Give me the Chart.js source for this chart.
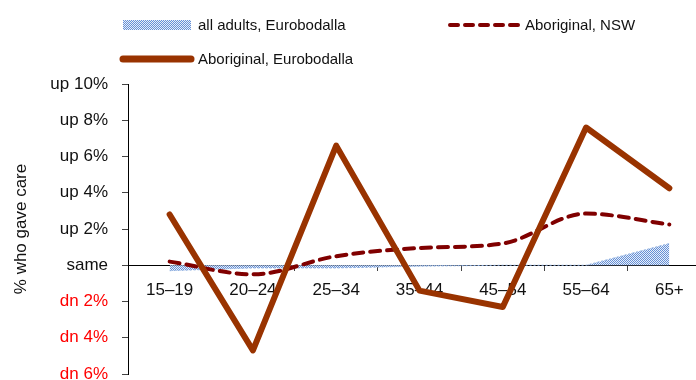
<!DOCTYPE html>
<html>
<head>
<meta charset="utf-8">
<script src="https://cdn.jsdelivr.net/npm/chart.js@4/dist/chart.umd.min.js"></script>
<style>
  html, body { margin:0; padding:0; background:#fff; overflow:hidden; width:696px; height:380px; }
  #wrap { position:absolute; left:0; top:0; width:714px; height:380px; }
  .lg { position:absolute; font-family:"Liberation Sans", Arial, sans-serif; font-size:15px; color:#111; line-height:18px; white-space:nowrap; }
  .sw { position:absolute; }
</style>
</head>
<body>
<div id="wrap"><canvas id="c" width="714" height="380" style="width:714px;height:380px"></canvas></div>
<canvas class="sw" id="sw1" width="70" height="12" style="left:122px;top:19px"></canvas>
<div class="lg" style="left:198px;top:16px">all adults, Eurobodalla</div>
<canvas class="sw" id="sw2" width="74" height="12" style="left:446px;top:19px"></canvas>
<div class="lg" style="left:525px;top:16px">Aboriginal, NSW</div>
<canvas class="sw" id="sw3" width="78" height="12" style="left:118px;top:53px"></canvas>
<div class="lg" style="left:198px;top:50px">Aboriginal, Eurobodalla</div>
<script>
const categories = ['15–19','20–24','25–34','35–44','45–54','55–64','65+'];
const allAdultsEurobodalla = [-0.3, -0.15, -0.15, -0.05, 0, 0, 1.2];
const aboriginalNSW = [0.2, -0.5, 0.5, 0.95, 1.2, 2.85, 2.25];
const aboriginalEurobodalla = [2.8, -4.7, 6.6, -1.4, -2.3, 7.6, 4.25];
const yTickValues = [-6, -4, -2, 0, 2, 4, 6, 8, 10];
const yTickLabels = ['dn 6%', 'dn 4%', 'dn 2%', 'same', 'up 2%', 'up 4%', 'up 6%', 'up 8%', 'up 10%'];

const FONT = '"Liberation Sans", Arial, sans-serif';
const C_EURO = '#993300';
const C_NSW = '#800000';

function makePattern(ctx) {
  const p = document.createElement('canvas');
  p.width = 2; p.height = 2;
  const pc = p.getContext('2d');
  pc.fillStyle = '#e8eff9'; pc.fillRect(0,0,2,2);
  pc.fillStyle = '#6690d6';
  pc.fillRect(0,0,1,1); pc.fillRect(1,1,1,1);
  return ctx.createPattern(p, 'repeat');
}

(function(){
  const s1 = document.getElementById('sw1').getContext('2d');
  s1.fillStyle = makePattern(s1); s1.fillRect(1,1,68,10);
  const s2 = document.getElementById('sw2').getContext('2d');
  s2.strokeStyle = C_NSW; s2.lineWidth = 4; s2.lineCap = 'round';
  s2.setLineDash([8,7]); s2.beginPath(); s2.moveTo(4,6); s2.lineTo(72,6); s2.stroke();
  const s3 = document.getElementById('sw3').getContext('2d');
  s3.strokeStyle = C_EURO; s3.lineWidth = 7; s3.lineCap = 'round';
  s3.beginPath(); s3.moveTo(5,6); s3.lineTo(73,6); s3.stroke();
})();

const ctx = document.getElementById('c').getContext('2d');
new Chart(ctx, {
  type: 'line',
  data: {
    labels: categories,
    datasets: [
      { label: 'all adults, Eurobodalla', data: allAdultsEurobodalla, backgroundColor: makePattern(ctx),
        borderColor: '#8fb0e0', borderWidth: 1, borderDash: [2,2], fill: 'origin', pointRadius: 0, tension: 0, order: 3 },
      { label: 'Aboriginal, NSW', data: aboriginalNSW, borderColor: C_NSW, borderWidth: 4, borderDash: [10,7],
        borderCapStyle: 'round', fill: false, pointRadius: 0, cubicInterpolationMode: 'monotone', order: 2 },
      { label: 'Aboriginal, Eurobodalla', data: aboriginalEurobodalla, borderColor: C_EURO, borderWidth: 6,
        borderJoinStyle: 'round', borderCapStyle: 'round', fill: false, pointRadius: 0, tension: 0, order: 1 }
    ]
  },
  options: {
    responsive: false,
    maintainAspectRatio: false,
    animation: false,
    events: [],
    layout: { padding: { left: 0, top: 84, bottom: 6, right: 3 } },
    plugins: { legend: { display: false }, tooltip: { enabled: false } },
    scales: {
      x: {
        position: { y: 0 },
        offset: true,
        afterFit: (s) => { s.height = 0; },
        grid: { offset: true, drawOnChartArea: false, drawTicks: true, tickLength: 5, color: '#444' },
        border: { display: true, color: '#000', width: 1 },
        ticks: { font: { family: FONT, size: 17 }, color: '#111', padding: 10, maxRotation: 0, autoSkip: false }
      },
      y: {
        min: -6, max: 10,
        afterFit: (s) => { s.width = 128; s.paddingTop = 0; s.paddingBottom = 0; },
        afterBuildTicks: (s) => { s.ticks = yTickValues.map(v => ({ value: v })); },
        grid: { drawOnChartArea: false, drawTicks: true, tickLength: 6, color: '#444' },
        border: { display: true, color: '#000', width: 1 },
        ticks: {
          font: { family: FONT, size: 17 }, padding: 14,
          color: (c) => (c.tick && c.tick.value < 0) ? '#ff0000' : '#111',
          callback: (v) => yTickLabels[yTickValues.indexOf(v)]
        },
        title: { display: true, text: '% who gave care', font: { family: FONT, size: 17 }, color: '#111', padding: { top: 11, bottom: 0 } }
      }
    }
  }
});
</script>
</body>
</html>
